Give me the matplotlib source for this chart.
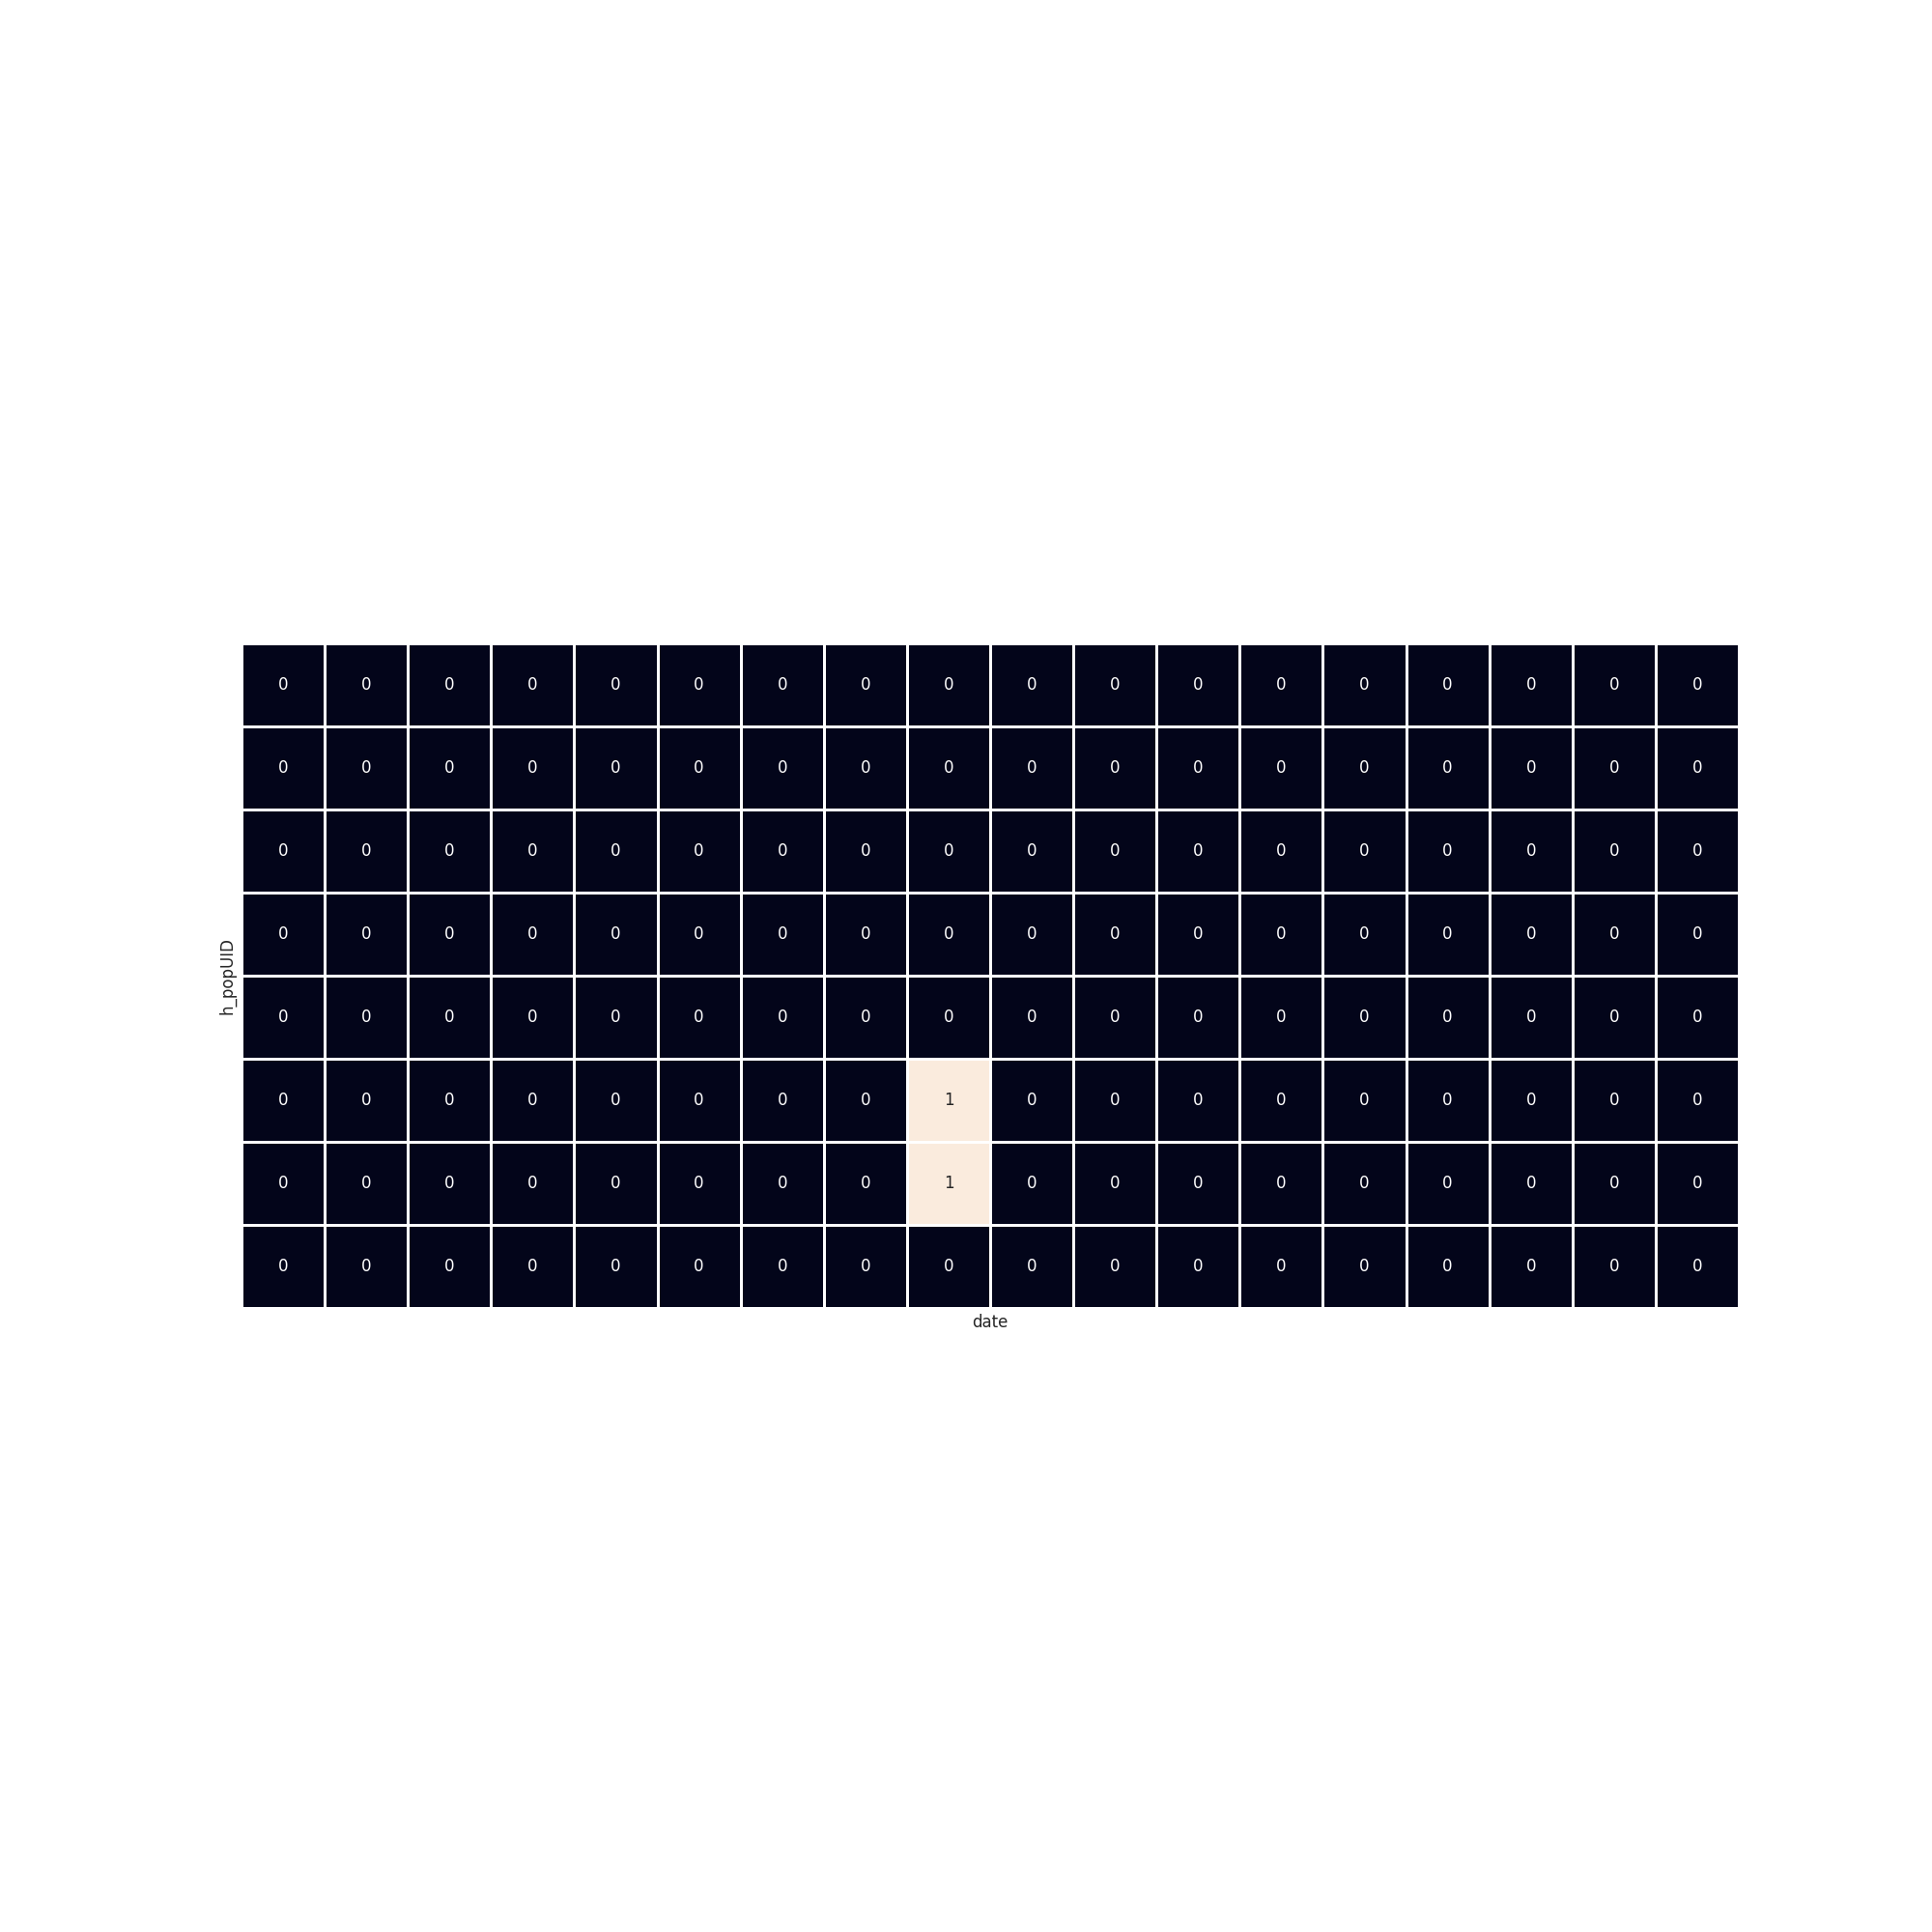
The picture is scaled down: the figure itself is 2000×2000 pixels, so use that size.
import matplotlib
matplotlib.use("Agg")
import matplotlib.pyplot as plt
import seaborn as sns
import numpy as np
import pandas as pd

n_rows = 8
n_cols = 18
row_ids = list(range(n_rows))
dates = list(range(n_cols))
hit_rows = [5, 6]
hit_cols = [8, 8]
hit_vals = [1, 1]

values = np.zeros((n_rows, n_cols), dtype=int)
for r, c, v in zip(hit_rows, hit_cols, hit_vals):
    values[r, c] = v

df = pd.DataFrame(values, index=row_ids, columns=dates)
df.index.name = "h_popUID"
df.columns.name = "date"

sns.set_theme(style="white")
plt.rcParams['font.family'] = ['DejaVu Sans']

fig, ax = plt.subplots(figsize=(20, 20), dpi=100)
sns.heatmap(df, ax=ax, cmap="rocket", annot=True, fmt="d", cbar=False,
            linewidths=1, linecolor="white", square=True,
            xticklabels=False, yticklabels=False)
ax.set_xlabel("date")
ax.set_ylabel("h_popUID")
fig.savefig("out.png", dpi=100)
